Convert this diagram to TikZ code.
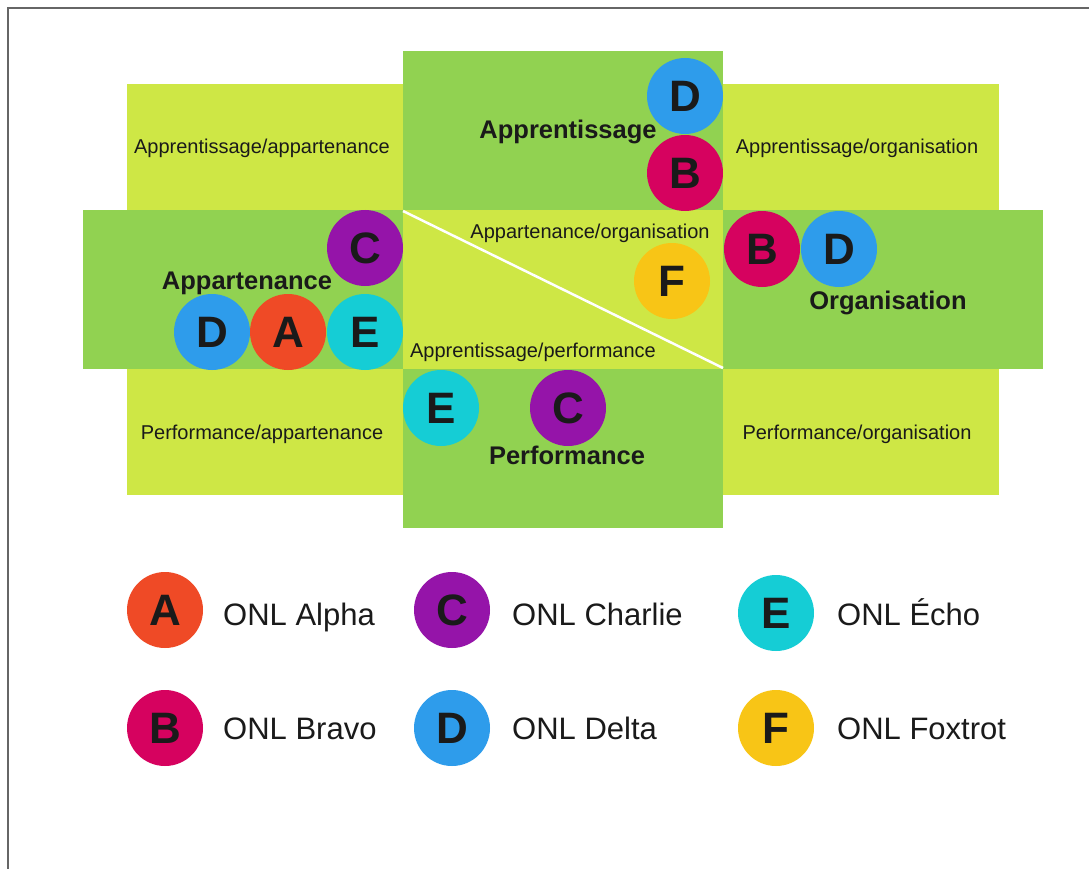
\documentclass[tikz,border=0pt]{standalone}
\usepackage{fontspec}
\setmainfont{Liberation Sans}
\definecolor{lightg}{HTML}{CEE745}
\definecolor{darkg}{HTML}{91D251}
\definecolor{txt}{HTML}{1A1A1A}
\definecolor{cA}{HTML}{EF4A26}
\definecolor{cB}{HTML}{D6025F}
\definecolor{cC}{HTML}{9514A9}
\definecolor{cD}{HTML}{2E9CEB}
\definecolor{cE}{HTML}{15CDD5}
\definecolor{cF}{HTML}{F8C516}
\definecolor{frame}{HTML}{666666}
\tikzset{
  onl/.style={circle, minimum size=76pt, inner sep=0pt, fill=#1, text=txt,
    font=\fontsize{44}{44}\selectfont\bfseries},
  pair/.style={anchor=base, text=txt, inner sep=0pt, font=\fontsize{20}{20}\selectfont},
  dim/.style={anchor=base, text=txt, inner sep=0pt, font=\fontsize{25.5}{25.5}\selectfont\bfseries},
  legtext/.style={anchor=base west, text=txt, inner sep=0pt, font=\fontsize{31}{31}\selectfont}
}
\begin{document}
\begin{tikzpicture}[x=1pt,y=-1pt]
\useasboundingbox (0,0) rectangle (1089,869);
\fill[white] (0,0) rectangle (1089,869);
\draw[frame, line width=2pt] (8,869) -- (8,8) -- (1089,8);
% background
\fill[lightg] (127,84) rectangle (999,495);
\fill[darkg] (403,51) rectangle (723,210);
\fill[darkg] (403,369) rectangle (723,528);
\fill[darkg] (83,210) rectangle (403,369);
\fill[darkg] (723,210) rectangle (1043,369);
\draw[white, line width=2.5pt] (403,211) -- (723,368);
% pair labels
\node[pair] (tl) at (262,154) {Apprentissage/appartenance};
\node[pair] (tr) at (857,154) {Apprentissage/organisation};
\node[pair] (bl) at (262,439) {Performance/appartenance};
\node[pair] (br) at (857,439) {Performance/organisation};
\node[pair] (ao) at (590,238) {Appartenance/organisation};
\node[pair] (ap) at (533,357) {Apprentissage/performance};
% dimension labels
\node[dim] (appr) at (568,139) {Apprentissage};
\node[dim] (appa) at (247,289) {Appartenance};
\node[dim] (orga) at (888,309) {Organisation};
\node[dim] (perf) at (567,464) {Performance};
% circles in diagram
\node[onl=cD] (tD) at (685,96) {D};
\node[onl=cB] (tB) at (685,173) {B};
\node[onl=cC] (lC) at (365,248) {C};
\node[onl=cD] (lD) at (212,332) {D};
\node[onl=cA] (lA) at (288,332) {A};
\node[onl=cE] (lE) at (365,332) {E};
\node[onl=cF] (mF) at (672,281) {F};
\node[onl=cB] (rB) at (762,249) {B};
\node[onl=cD] (rD) at (839,249) {D};
\node[onl=cE] (bE) at (441,408) {E};
\node[onl=cC] (bC) at (568,408) {C};
% legend
\node[onl=cA] (gA) at (165,610) {A};
\node[onl=cC] (gC) at (452,610) {C};
\node[onl=cE] (gE) at (776,613) {E};
\node[onl=cB] (gB) at (165,728) {B};
\node[onl=cD] (gD) at (452,728) {D};
\node[onl=cF] (gF) at (776,728) {F};
\node[legtext] (tA) at (223,625) {ONL Alpha};
\node[legtext] (tC) at (512,625) {ONL Charlie};
\node[legtext] (tE) at (837,625) {ONL Écho};
\node[legtext] (tB2) at (223,739) {ONL Bravo};
\node[legtext] (tD2) at (512,739) {ONL Delta};
\node[legtext] (tF) at (837,739) {ONL Foxtrot};
\end{tikzpicture}
\end{document}
